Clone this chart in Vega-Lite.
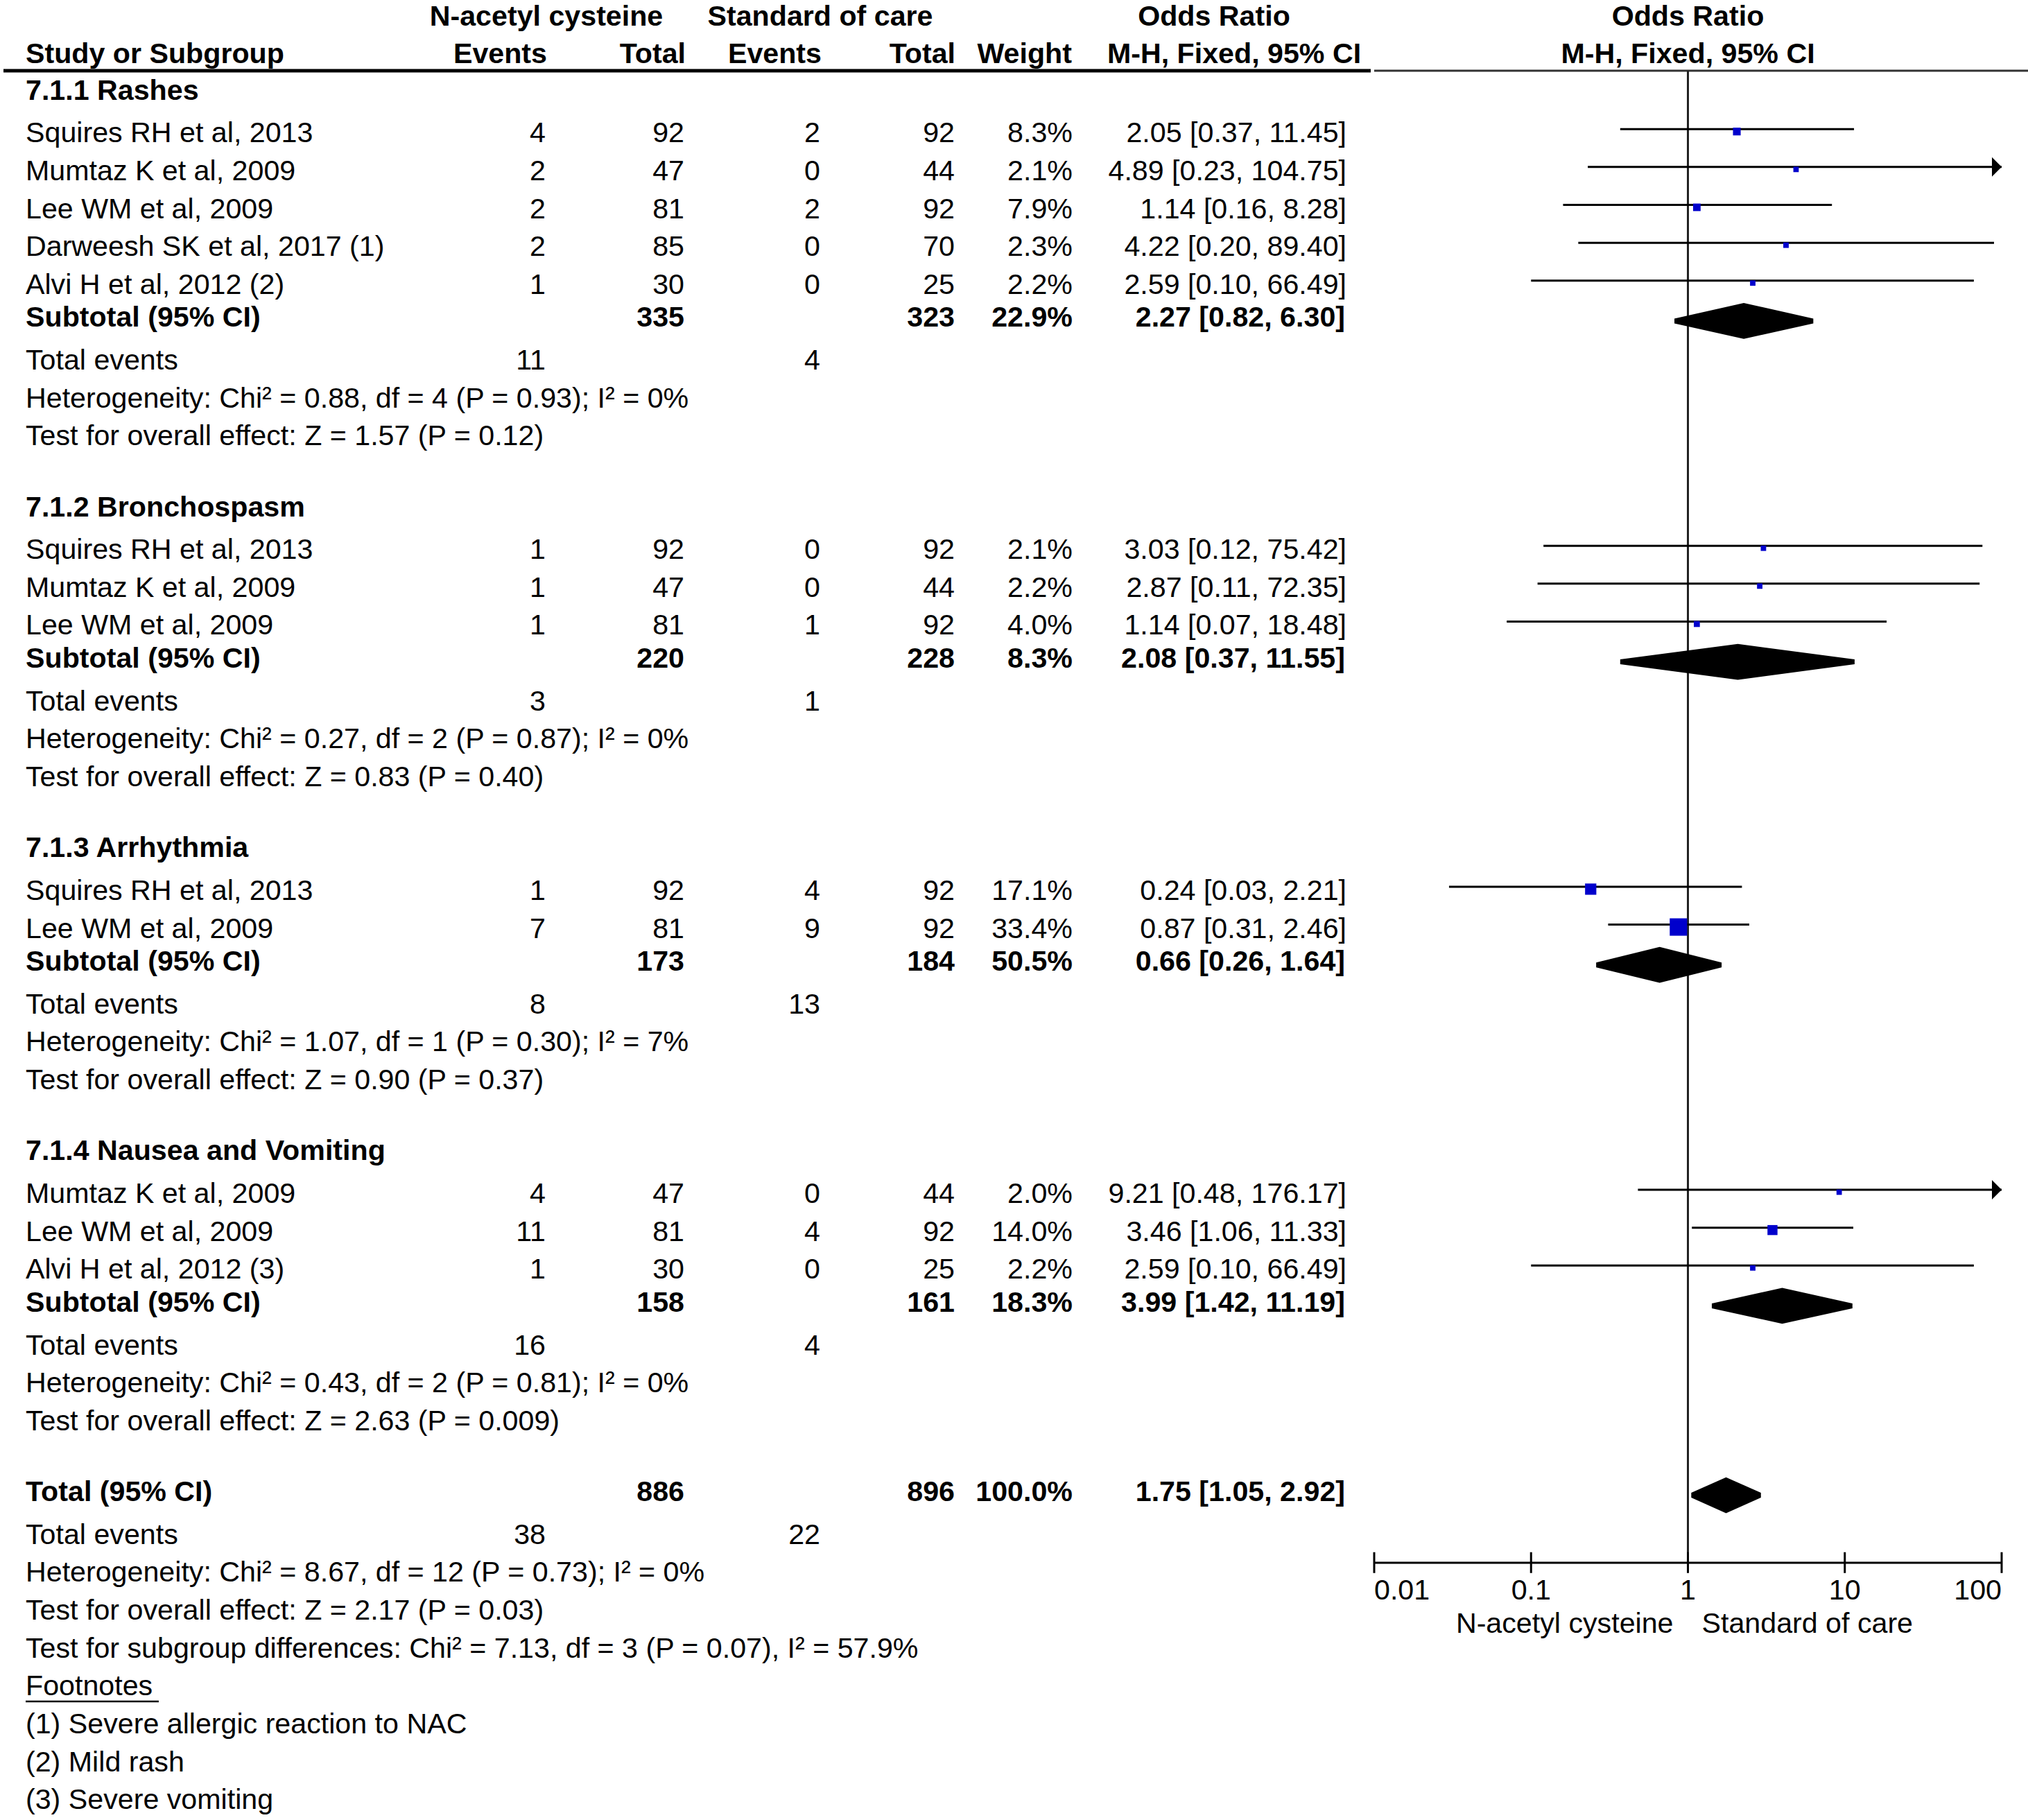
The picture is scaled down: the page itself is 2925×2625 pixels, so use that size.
{
  "$schema": "https://vega.github.io/schema/vega-lite/v6.json",
  "padding": 0,
  "background": "white",
  "spacing": 0,
  "config": {
    "view": {"stroke": null},
    "concat": {"spacing": 0},
    "text": {"font": "Liberation Sans", "fontSize": 41.2, "baseline": "middle", "color": "#000000"}
  },
  "datasets": {
    "rows": [
      {"row": 0, "kind": "group", "label": "7.1.1 Rashes"},
      {"row": 1, "kind": "study", "label": "Squires RH et al, 2013", "nac_e": 4, "nac_t": 92, "soc_e": 2, "soc_t": 92, "weight": 0.083, "est": 2.05, "lo": 0.37, "hi": 11.45, "ci": "2.05 [0.37, 11.45]"},
      {"row": 2, "kind": "study", "label": "Mumtaz K et al, 2009", "nac_e": 2, "nac_t": 47, "soc_e": 0, "soc_t": 44, "weight": 0.021, "est": 4.89, "lo": 0.23, "hi": 104.75, "ci": "4.89 [0.23, 104.75]"},
      {"row": 3, "kind": "study", "label": "Lee WM et al, 2009", "nac_e": 2, "nac_t": 81, "soc_e": 2, "soc_t": 92, "weight": 0.079, "est": 1.14, "lo": 0.16, "hi": 8.28, "ci": "1.14 [0.16, 8.28]"},
      {"row": 4, "kind": "study", "label": "Darweesh SK et al, 2017 (1)", "nac_e": 2, "nac_t": 85, "soc_e": 0, "soc_t": 70, "weight": 0.023, "est": 4.22, "lo": 0.20, "hi": 89.40, "ci": "4.22 [0.20, 89.40]"},
      {"row": 5, "kind": "study", "label": "Alvi H et al, 2012 (2)", "nac_e": 1, "nac_t": 30, "soc_e": 0, "soc_t": 25, "weight": 0.022, "est": 2.59, "lo": 0.10, "hi": 66.49, "ci": "2.59 [0.10, 66.49]"},
      {"row": 6, "kind": "subtotal", "label": "Subtotal (95% CI)", "nac_t": 335, "soc_t": 323, "weight": 0.229, "est": 2.27, "lo": 0.82, "hi": 6.30, "ci": "2.27 [0.82, 6.30]"},
      {"row": 7, "kind": "events", "label": "Total events", "nac_e": 11, "soc_e": 4},
      {"row": 8, "kind": "note", "label": "Heterogeneity: Chi² = 0.88, df = 4 (P = 0.93); I² = 0%"},
      {"row": 9, "kind": "note", "label": "Test for overall effect: Z = 1.57 (P = 0.12)"},
      {"row": 11, "kind": "group", "label": "7.1.2 Bronchospasm"},
      {"row": 12, "kind": "study", "label": "Squires RH et al, 2013", "nac_e": 1, "nac_t": 92, "soc_e": 0, "soc_t": 92, "weight": 0.021, "est": 3.03, "lo": 0.12, "hi": 75.42, "ci": "3.03 [0.12, 75.42]"},
      {"row": 13, "kind": "study", "label": "Mumtaz K et al, 2009", "nac_e": 1, "nac_t": 47, "soc_e": 0, "soc_t": 44, "weight": 0.022, "est": 2.87, "lo": 0.11, "hi": 72.35, "ci": "2.87 [0.11, 72.35]"},
      {"row": 14, "kind": "study", "label": "Lee WM et al, 2009", "nac_e": 1, "nac_t": 81, "soc_e": 1, "soc_t": 92, "weight": 0.040, "est": 1.14, "lo": 0.07, "hi": 18.48, "ci": "1.14 [0.07, 18.48]"},
      {"row": 15, "kind": "subtotal", "label": "Subtotal (95% CI)", "nac_t": 220, "soc_t": 228, "weight": 0.083, "est": 2.08, "lo": 0.37, "hi": 11.55, "ci": "2.08 [0.37, 11.55]"},
      {"row": 16, "kind": "events", "label": "Total events", "nac_e": 3, "soc_e": 1},
      {"row": 17, "kind": "note", "label": "Heterogeneity: Chi² = 0.27, df = 2 (P = 0.87); I² = 0%"},
      {"row": 18, "kind": "note", "label": "Test for overall effect: Z = 0.83 (P = 0.40)"},
      {"row": 20, "kind": "group", "label": "7.1.3 Arrhythmia"},
      {"row": 21, "kind": "study", "label": "Squires RH et al, 2013", "nac_e": 1, "nac_t": 92, "soc_e": 4, "soc_t": 92, "weight": 0.171, "est": 0.24, "lo": 0.03, "hi": 2.21, "ci": "0.24 [0.03, 2.21]"},
      {"row": 22, "kind": "study", "label": "Lee WM et al, 2009", "nac_e": 7, "nac_t": 81, "soc_e": 9, "soc_t": 92, "weight": 0.334, "est": 0.87, "lo": 0.31, "hi": 2.46, "ci": "0.87 [0.31, 2.46]"},
      {"row": 23, "kind": "subtotal", "label": "Subtotal (95% CI)", "nac_t": 173, "soc_t": 184, "weight": 0.505, "est": 0.66, "lo": 0.26, "hi": 1.64, "ci": "0.66 [0.26, 1.64]"},
      {"row": 24, "kind": "events", "label": "Total events", "nac_e": 8, "soc_e": 13},
      {"row": 25, "kind": "note", "label": "Heterogeneity: Chi² = 1.07, df = 1 (P = 0.30); I² = 7%"},
      {"row": 26, "kind": "note", "label": "Test for overall effect: Z = 0.90 (P = 0.37)"},
      {"row": 28, "kind": "group", "label": "7.1.4 Nausea and Vomiting"},
      {"row": 29, "kind": "study", "label": "Mumtaz K et al, 2009", "nac_e": 4, "nac_t": 47, "soc_e": 0, "soc_t": 44, "weight": 0.020, "est": 9.21, "lo": 0.48, "hi": 176.17, "ci": "9.21 [0.48, 176.17]"},
      {"row": 30, "kind": "study", "label": "Lee WM et al, 2009", "nac_e": 11, "nac_t": 81, "soc_e": 4, "soc_t": 92, "weight": 0.140, "est": 3.46, "lo": 1.06, "hi": 11.33, "ci": "3.46 [1.06, 11.33]"},
      {"row": 31, "kind": "study", "label": "Alvi H et al, 2012 (3)", "nac_e": 1, "nac_t": 30, "soc_e": 0, "soc_t": 25, "weight": 0.022, "est": 2.59, "lo": 0.10, "hi": 66.49, "ci": "2.59 [0.10, 66.49]"},
      {"row": 32, "kind": "subtotal", "label": "Subtotal (95% CI)", "nac_t": 158, "soc_t": 161, "weight": 0.183, "est": 3.99, "lo": 1.42, "hi": 11.19, "ci": "3.99 [1.42, 11.19]"},
      {"row": 33, "kind": "events", "label": "Total events", "nac_e": 16, "soc_e": 4},
      {"row": 34, "kind": "note", "label": "Heterogeneity: Chi² = 0.43, df = 2 (P = 0.81); I² = 0%"},
      {"row": 35, "kind": "note", "label": "Test for overall effect: Z = 2.63 (P = 0.009)"},
      {"row": 37, "kind": "total", "label": "Total (95% CI)", "nac_t": 886, "soc_t": 896, "weight": 1.0, "est": 1.75, "lo": 1.05, "hi": 2.92, "ci": "1.75 [1.05, 2.92]"},
      {"row": 38, "kind": "events", "label": "Total events", "nac_e": 38, "soc_e": 22},
      {"row": 39, "kind": "note", "label": "Heterogeneity: Chi² = 8.67, df = 12 (P = 0.73); I² = 0%"},
      {"row": 40, "kind": "note", "label": "Test for overall effect: Z = 2.17 (P = 0.03)"},
      {"row": 41, "kind": "note", "label": "Test for subgroup differences: Chi² = 7.13, df = 3 (P = 0.07), I² = 57.9%"},
      {"row": 42, "kind": "note", "label": "Footnotes "},
      {"row": 43, "kind": "note", "label": "(1) Severe allergic reaction to NAC"},
      {"row": 44, "kind": "note", "label": "(2) Mild rash"},
      {"row": 45, "kind": "note", "label": "(3) Severe vomiting"}
    ],
    "ticks": [{"t": 0.01}, {"t": 0.1}, {"t": 1}, {"t": 10}, {"t": 100}]
  },
  "hconcat": [
    {
      "width": 1977,
      "height": 2625,
      "data": {"name": "rows"},
      "layer": [
        {
          "data": {"values": [{}]},
          "mark": {"type": "rule", "strokeWidth": 5, "color": "#000000"},
          "encoding": {
            "x": {"datum": 5, "type": "quantitative", "scale": {"domain": [0, 1977], "nice": false, "zero": false}, "axis": null},
            "x2": {"datum": 1977},
            "y": {"datum": -0.672, "type": "quantitative", "scale": {"domain": [-2.537, 45.51], "reverse": true, "nice": false, "zero": false}, "axis": null}
          }
        },
        {
          "data": {"values": [{}]},
          "mark": {"type": "rule", "strokeWidth": 2.5, "color": "#000000"},
          "encoding": {
            "x": {"datum": 37, "type": "quantitative", "scale": {"domain": [0, 1977], "nice": false, "zero": false}, "axis": null},
            "x2": {"datum": 229},
            "y": {"datum": 42.38, "type": "quantitative", "scale": {"domain": [-2.537, 45.51], "reverse": true, "nice": false, "zero": false}, "axis": null}
          }
        },
        {
          "data": {"values": [{}]},
          "mark": {"type": "text", "fontWeight": "bold", "align": "center", "dy": -4},
          "encoding": {
            "x": {"datum": 788, "type": "quantitative", "scale": {"domain": [0, 1977], "nice": false, "zero": false}, "axis": null},
            "y": {"datum": -2, "type": "quantitative", "scale": {"domain": [-2.537, 45.51], "reverse": true, "nice": false, "zero": false}, "axis": null},
            "text": {"value": "N-acetyl cysteine"}
          }
        },
        {
          "data": {"values": [{}]},
          "mark": {"type": "text", "fontWeight": "bold", "align": "center", "dy": -4},
          "encoding": {
            "x": {"datum": 1183, "type": "quantitative", "scale": {"domain": [0, 1977], "nice": false, "zero": false}, "axis": null},
            "y": {"datum": -2, "type": "quantitative", "scale": {"domain": [-2.537, 45.51], "reverse": true, "nice": false, "zero": false}, "axis": null},
            "text": {"value": "Standard of care"}
          }
        },
        {
          "data": {"values": [{}]},
          "mark": {"type": "text", "fontWeight": "bold", "align": "center", "dy": -4},
          "encoding": {
            "x": {"datum": 1751, "type": "quantitative", "scale": {"domain": [0, 1977], "nice": false, "zero": false}, "axis": null},
            "y": {"datum": -2, "type": "quantitative", "scale": {"domain": [-2.537, 45.51], "reverse": true, "nice": false, "zero": false}, "axis": null},
            "text": {"value": "Odds Ratio"}
          }
        },
        {
          "data": {"values": [{}]},
          "mark": {"type": "text", "fontWeight": "bold", "align": "left", "dy": -5},
          "encoding": {
            "x": {"datum": 37, "type": "quantitative", "scale": {"domain": [0, 1977], "nice": false, "zero": false}, "axis": null},
            "y": {"datum": -1, "type": "quantitative", "scale": {"domain": [-2.537, 45.51], "reverse": true, "nice": false, "zero": false}, "axis": null},
            "text": {"value": "Study or Subgroup"}
          }
        },
        {
          "data": {"values": [{}]},
          "mark": {"type": "text", "fontWeight": "bold", "align": "right", "dy": -5},
          "encoding": {
            "x": {"datum": 789, "type": "quantitative", "scale": {"domain": [0, 1977], "nice": false, "zero": false}, "axis": null},
            "y": {"datum": -1, "type": "quantitative", "scale": {"domain": [-2.537, 45.51], "reverse": true, "nice": false, "zero": false}, "axis": null},
            "text": {"value": "Events"}
          }
        },
        {
          "data": {"values": [{}]},
          "mark": {"type": "text", "fontWeight": "bold", "align": "right", "dy": -5},
          "encoding": {
            "x": {"datum": 989, "type": "quantitative", "scale": {"domain": [0, 1977], "nice": false, "zero": false}, "axis": null},
            "y": {"datum": -1, "type": "quantitative", "scale": {"domain": [-2.537, 45.51], "reverse": true, "nice": false, "zero": false}, "axis": null},
            "text": {"value": "Total"}
          }
        },
        {
          "data": {"values": [{}]},
          "mark": {"type": "text", "fontWeight": "bold", "align": "right", "dy": -5},
          "encoding": {
            "x": {"datum": 1185, "type": "quantitative", "scale": {"domain": [0, 1977], "nice": false, "zero": false}, "axis": null},
            "y": {"datum": -1, "type": "quantitative", "scale": {"domain": [-2.537, 45.51], "reverse": true, "nice": false, "zero": false}, "axis": null},
            "text": {"value": "Events"}
          }
        },
        {
          "data": {"values": [{}]},
          "mark": {"type": "text", "fontWeight": "bold", "align": "right", "dy": -5},
          "encoding": {
            "x": {"datum": 1378, "type": "quantitative", "scale": {"domain": [0, 1977], "nice": false, "zero": false}, "axis": null},
            "y": {"datum": -1, "type": "quantitative", "scale": {"domain": [-2.537, 45.51], "reverse": true, "nice": false, "zero": false}, "axis": null},
            "text": {"value": "Total"}
          }
        },
        {
          "data": {"values": [{}]},
          "mark": {"type": "text", "fontWeight": "bold", "align": "right", "dy": -5},
          "encoding": {
            "x": {"datum": 1546, "type": "quantitative", "scale": {"domain": [0, 1977], "nice": false, "zero": false}, "axis": null},
            "y": {"datum": -1, "type": "quantitative", "scale": {"domain": [-2.537, 45.51], "reverse": true, "nice": false, "zero": false}, "axis": null},
            "text": {"value": "Weight"}
          }
        },
        {
          "data": {"values": [{}]},
          "mark": {"type": "text", "fontWeight": "bold", "align": "center", "dy": -5},
          "encoding": {
            "x": {"datum": 1780, "type": "quantitative", "scale": {"domain": [0, 1977], "nice": false, "zero": false}, "axis": null},
            "y": {"datum": -1, "type": "quantitative", "scale": {"domain": [-2.537, 45.51], "reverse": true, "nice": false, "zero": false}, "axis": null},
            "text": {"value": "M-H, Fixed, 95% CI"}
          }
        },
        {
          "transform": [{"filter": "datum.kind == 'study' || datum.kind == 'events' || datum.kind == 'note'"}],
          "mark": {"type": "text", "align": "left"},
          "encoding": {
            "x": {"datum": 37, "type": "quantitative", "scale": {"domain": [0, 1977], "nice": false, "zero": false}, "axis": null},
            "y": {"field": "row", "type": "quantitative", "scale": {"domain": [-2.537, 45.51], "reverse": true, "nice": false, "zero": false}, "axis": null},
            "text": {"field": "label", "type": "nominal"}
          }
        },
        {
          "transform": [{"filter": "datum.kind == 'group' || datum.kind == 'subtotal' || datum.kind == 'total'"}],
          "mark": {"type": "text", "align": "left", "fontWeight": "bold", "dy": -7},
          "encoding": {
            "x": {"datum": 37, "type": "quantitative", "scale": {"domain": [0, 1977], "nice": false, "zero": false}, "axis": null},
            "y": {"field": "row", "type": "quantitative", "scale": {"domain": [-2.537, 45.51], "reverse": true, "nice": false, "zero": false}, "axis": null},
            "text": {"field": "label", "type": "nominal"}
          }
        },
        {
          "transform": [{"filter": "datum.kind == 'study' || datum.kind == 'events'"}],
          "mark": {"type": "text", "align": "right"},
          "encoding": {
            "x": {"datum": 787, "type": "quantitative", "scale": {"domain": [0, 1977], "nice": false, "zero": false}, "axis": null},
            "y": {"field": "row", "type": "quantitative", "scale": {"domain": [-2.537, 45.51], "reverse": true, "nice": false, "zero": false}, "axis": null},
            "text": {"field": "nac_e", "type": "quantitative", "format": "d"}
          }
        },
        {
          "transform": [{"filter": "datum.kind == 'study' || datum.kind == 'events'"}],
          "mark": {"type": "text", "align": "right"},
          "encoding": {
            "x": {"datum": 1183, "type": "quantitative", "scale": {"domain": [0, 1977], "nice": false, "zero": false}, "axis": null},
            "y": {"field": "row", "type": "quantitative", "scale": {"domain": [-2.537, 45.51], "reverse": true, "nice": false, "zero": false}, "axis": null},
            "text": {"field": "soc_e", "type": "quantitative", "format": "d"}
          }
        },
        {
          "transform": [{"filter": "datum.kind == 'study'"}],
          "mark": {"type": "text", "align": "right"},
          "encoding": {
            "x": {"datum": 987, "type": "quantitative", "scale": {"domain": [0, 1977], "nice": false, "zero": false}, "axis": null},
            "y": {"field": "row", "type": "quantitative", "scale": {"domain": [-2.537, 45.51], "reverse": true, "nice": false, "zero": false}, "axis": null},
            "text": {"field": "nac_t", "type": "quantitative", "format": "d"}
          }
        },
        {
          "transform": [{"filter": "datum.kind == 'study'"}],
          "mark": {"type": "text", "align": "right"},
          "encoding": {
            "x": {"datum": 1377, "type": "quantitative", "scale": {"domain": [0, 1977], "nice": false, "zero": false}, "axis": null},
            "y": {"field": "row", "type": "quantitative", "scale": {"domain": [-2.537, 45.51], "reverse": true, "nice": false, "zero": false}, "axis": null},
            "text": {"field": "soc_t", "type": "quantitative", "format": "d"}
          }
        },
        {
          "transform": [{"filter": "datum.kind == 'study'"}],
          "mark": {"type": "text", "align": "right"},
          "encoding": {
            "x": {"datum": 1547, "type": "quantitative", "scale": {"domain": [0, 1977], "nice": false, "zero": false}, "axis": null},
            "y": {"field": "row", "type": "quantitative", "scale": {"domain": [-2.537, 45.51], "reverse": true, "nice": false, "zero": false}, "axis": null},
            "text": {"field": "weight", "type": "quantitative", "format": ".1%"}
          }
        },
        {
          "transform": [{"filter": "datum.kind == 'study'"}],
          "mark": {"type": "text", "align": "right"},
          "encoding": {
            "x": {"datum": 1942, "type": "quantitative", "scale": {"domain": [0, 1977], "nice": false, "zero": false}, "axis": null},
            "y": {"field": "row", "type": "quantitative", "scale": {"domain": [-2.537, 45.51], "reverse": true, "nice": false, "zero": false}, "axis": null},
            "text": {"field": "ci", "type": "nominal"}
          }
        },
        {
          "transform": [{"filter": "datum.kind == 'subtotal' || datum.kind == 'total'"}],
          "mark": {"type": "text", "align": "right", "fontWeight": "bold", "dy": -7},
          "encoding": {
            "x": {"datum": 987, "type": "quantitative", "scale": {"domain": [0, 1977], "nice": false, "zero": false}, "axis": null},
            "y": {"field": "row", "type": "quantitative", "scale": {"domain": [-2.537, 45.51], "reverse": true, "nice": false, "zero": false}, "axis": null},
            "text": {"field": "nac_t", "type": "quantitative", "format": "d"}
          }
        },
        {
          "transform": [{"filter": "datum.kind == 'subtotal' || datum.kind == 'total'"}],
          "mark": {"type": "text", "align": "right", "fontWeight": "bold", "dy": -7},
          "encoding": {
            "x": {"datum": 1377, "type": "quantitative", "scale": {"domain": [0, 1977], "nice": false, "zero": false}, "axis": null},
            "y": {"field": "row", "type": "quantitative", "scale": {"domain": [-2.537, 45.51], "reverse": true, "nice": false, "zero": false}, "axis": null},
            "text": {"field": "soc_t", "type": "quantitative", "format": "d"}
          }
        },
        {
          "transform": [{"filter": "datum.kind == 'subtotal' || datum.kind == 'total'"}],
          "mark": {"type": "text", "align": "right", "fontWeight": "bold", "dy": -7},
          "encoding": {
            "x": {"datum": 1547, "type": "quantitative", "scale": {"domain": [0, 1977], "nice": false, "zero": false}, "axis": null},
            "y": {"field": "row", "type": "quantitative", "scale": {"domain": [-2.537, 45.51], "reverse": true, "nice": false, "zero": false}, "axis": null},
            "text": {"field": "weight", "type": "quantitative", "format": ".1%"}
          }
        },
        {
          "transform": [{"filter": "datum.kind == 'subtotal' || datum.kind == 'total'"}],
          "mark": {"type": "text", "align": "right", "fontWeight": "bold", "dy": -7},
          "encoding": {
            "x": {"datum": 1940, "type": "quantitative", "scale": {"domain": [0, 1977], "nice": false, "zero": false}, "axis": null},
            "y": {"field": "row", "type": "quantitative", "scale": {"domain": [-2.537, 45.51], "reverse": true, "nice": false, "zero": false}, "axis": null},
            "text": {"field": "ci", "type": "nominal"}
          }
        }
      ]
    },
    {
      "width": 948,
      "height": 2625,
      "data": {"name": "rows"},
      "layer": [
        {
          "data": {"values": [{}]},
          "mark": {"type": "rule", "strokeWidth": 3, "color": "#333333"},
          "encoding": {
            "x": {"value": 0},
            "x2": {"value": "width"},
            "y": {"datum": -0.672, "type": "quantitative", "scale": {"domain": [-2.537, 45.51], "reverse": true, "nice": false, "zero": false}, "axis": null}
          }
        },
        {
          "data": {"values": [{}]},
          "mark": {"type": "rule", "strokeWidth": 3, "color": "#222222"},
          "encoding": {
            "x": {"datum": 1, "type": "quantitative", "scale": {"type": "log", "domain": [0.01, 100], "range": [0, 905], "clamp": true, "nice": false}, "axis": null},
            "y": {"datum": -0.672, "type": "quantitative", "scale": {"domain": [-2.537, 45.51], "reverse": true, "nice": false, "zero": false}, "axis": null},
            "y2": {"datum": 38.72}
          }
        },
        {
          "transform": [{"filter": "datum.kind == 'study'"}],
          "mark": {"type": "rule", "strokeWidth": 3, "color": "#000000", "yOffset": -7},
          "encoding": {
            "x": {"field": "lo", "type": "quantitative", "scale": {"type": "log", "domain": [0.01, 100], "range": [0, 905], "clamp": true, "nice": false}, "axis": null},
            "x2": {"field": "hi"},
            "y": {"field": "row", "type": "quantitative", "scale": {"domain": [-2.537, 45.51], "reverse": true, "nice": false, "zero": false}, "axis": null}
          }
        },
        {
          "transform": [{"filter": "datum.kind == 'study' && datum.hi > 100"}],
          "mark": {"type": "point", "shape": "M-1,-1L0,0L-1,1Z", "filled": true, "color": "#000000", "opacity": 1, "size": 784, "yOffset": -7},
          "encoding": {
            "x": {"datum": 100, "type": "quantitative", "scale": {"type": "log", "domain": [0.01, 100], "range": [0, 905], "clamp": true, "nice": false}, "axis": null},
            "y": {"field": "row", "type": "quantitative", "scale": {"domain": [-2.537, 45.51], "reverse": true, "nice": false, "zero": false}, "axis": null}
          }
        },
        {
          "transform": [{"filter": "datum.kind == 'study'"}],
          "mark": {"type": "point", "shape": "square", "filled": true, "color": "#0000CC", "opacity": 1, "yOffset": -3.5},
          "encoding": {
            "x": {"field": "est", "type": "quantitative", "scale": {"type": "log", "domain": [0.01, 100], "range": [0, 905], "clamp": true, "nice": false}, "axis": null},
            "y": {"field": "row", "type": "quantitative", "scale": {"domain": [-2.537, 45.51], "reverse": true, "nice": false, "zero": false}, "axis": null},
            "size": {"field": "weight", "type": "quantitative", "scale": {"type": "pow", "exponent": 1.5, "domain": [0.02, 0.334], "range": [60, 630], "zero": false}, "legend": null}
          }
        },
        {
          "transform": [
            {"filter": "datum.kind == 'subtotal' || datum.kind == 'total'"},
            {"fold": ["lo", "est", "hi"], "as": ["key", "val"]},
            {"calculate": "datum.key == 'est' ? datum.row - 0.41 : datum.row", "as": "ytop"},
            {"calculate": "datum.key == 'est' ? datum.row + 0.41 : datum.row", "as": "ybot"}
          ],
          "mark": {"type": "area", "color": "#000000", "opacity": 1, "yOffset": -7},
          "encoding": {
            "x": {"field": "val", "type": "quantitative", "scale": {"type": "log", "domain": [0.01, 100], "range": [0, 905], "clamp": true, "nice": false}, "axis": null},
            "y": {"field": "ytop", "type": "quantitative", "stack": null, "scale": {"domain": [-2.537, 45.51], "reverse": true, "nice": false, "zero": false}, "axis": null},
            "y2": {"field": "ybot"},
            "detail": {"field": "row", "type": "nominal"}
          }
        },
        {
          "data": {"values": [{}]},
          "mark": {"type": "rule", "strokeWidth": 3, "color": "#000000"},
          "encoding": {
            "x": {"datum": 0.01, "type": "quantitative", "scale": {"type": "log", "domain": [0.01, 100], "range": [0, 905], "clamp": true, "nice": false}, "axis": null},
            "x2": {"datum": 100},
            "y": {"datum": 38.72, "type": "quantitative", "scale": {"domain": [-2.537, 45.51], "reverse": true, "nice": false, "zero": false}, "axis": null}
          }
        },
        {
          "data": {"name": "ticks"},
          "mark": {"type": "rule", "strokeWidth": 3, "color": "#000000"},
          "encoding": {
            "x": {"field": "t", "type": "quantitative", "scale": {"type": "log", "domain": [0.01, 100], "range": [0, 905], "clamp": true, "nice": false}, "axis": null},
            "y": {"datum": 38.44, "type": "quantitative", "scale": {"domain": [-2.537, 45.51], "reverse": true, "nice": false, "zero": false}, "axis": null},
            "y2": {"datum": 38.99}
          }
        },
        {
          "data": {"name": "ticks"},
          "transform": [{"filter": "datum.t == 0.01"}],
          "mark": {"type": "text", "align": "left"},
          "encoding": {
            "x": {"field": "t", "type": "quantitative", "scale": {"type": "log", "domain": [0.01, 100], "range": [0, 905], "clamp": true, "nice": false}, "axis": null},
            "y": {"datum": 39.47, "type": "quantitative", "scale": {"domain": [-2.537, 45.51], "reverse": true, "nice": false, "zero": false}, "axis": null},
            "text": {"field": "t", "type": "quantitative", "format": "~g"}
          }
        },
        {
          "data": {"name": "ticks"},
          "transform": [{"filter": "datum.t > 0.01 && datum.t < 100"}],
          "mark": {"type": "text", "align": "center"},
          "encoding": {
            "x": {"field": "t", "type": "quantitative", "scale": {"type": "log", "domain": [0.01, 100], "range": [0, 905], "clamp": true, "nice": false}, "axis": null},
            "y": {"datum": 39.47, "type": "quantitative", "scale": {"domain": [-2.537, 45.51], "reverse": true, "nice": false, "zero": false}, "axis": null},
            "text": {"field": "t", "type": "quantitative", "format": "~g"}
          }
        },
        {
          "data": {"name": "ticks"},
          "transform": [{"filter": "datum.t == 100"}],
          "mark": {"type": "text", "align": "right"},
          "encoding": {
            "x": {"field": "t", "type": "quantitative", "scale": {"type": "log", "domain": [0.01, 100], "range": [0, 905], "clamp": true, "nice": false}, "axis": null},
            "y": {"datum": 39.47, "type": "quantitative", "scale": {"domain": [-2.537, 45.51], "reverse": true, "nice": false, "zero": false}, "axis": null},
            "text": {"field": "t", "type": "quantitative", "format": "~g"}
          }
        },
        {
          "data": {"values": [{}]},
          "mark": {"type": "text", "align": "right", "dx": -21},
          "encoding": {
            "x": {"datum": 1, "type": "quantitative", "scale": {"type": "log", "domain": [0.01, 100], "range": [0, 905], "clamp": true, "nice": false}, "axis": null},
            "y": {"datum": 40.35, "type": "quantitative", "scale": {"domain": [-2.537, 45.51], "reverse": true, "nice": false, "zero": false}, "axis": null},
            "text": {"value": "N-acetyl cysteine"}
          }
        },
        {
          "data": {"values": [{}]},
          "mark": {"type": "text", "align": "left", "dx": 20},
          "encoding": {
            "x": {"datum": 1, "type": "quantitative", "scale": {"type": "log", "domain": [0.01, 100], "range": [0, 905], "clamp": true, "nice": false}, "axis": null},
            "y": {"datum": 40.35, "type": "quantitative", "scale": {"domain": [-2.537, 45.51], "reverse": true, "nice": false, "zero": false}, "axis": null},
            "text": {"value": "Standard of care"}
          }
        },
        {
          "data": {"values": [{}]},
          "mark": {"type": "text", "align": "center", "fontWeight": "bold", "dy": -4},
          "encoding": {
            "x": {"datum": 1, "type": "quantitative", "scale": {"type": "log", "domain": [0.01, 100], "range": [0, 905], "clamp": true, "nice": false}, "axis": null},
            "y": {"datum": -2, "type": "quantitative", "scale": {"domain": [-2.537, 45.51], "reverse": true, "nice": false, "zero": false}, "axis": null},
            "text": {"value": "Odds Ratio"}
          }
        },
        {
          "data": {"values": [{}]},
          "mark": {"type": "text", "align": "center", "fontWeight": "bold", "dy": -5},
          "encoding": {
            "x": {"datum": 1, "type": "quantitative", "scale": {"type": "log", "domain": [0.01, 100], "range": [0, 905], "clamp": true, "nice": false}, "axis": null},
            "y": {"datum": -1, "type": "quantitative", "scale": {"domain": [-2.537, 45.51], "reverse": true, "nice": false, "zero": false}, "axis": null},
            "text": {"value": "M-H, Fixed, 95% CI"}
          }
        }
      ]
    }
  ]
}
